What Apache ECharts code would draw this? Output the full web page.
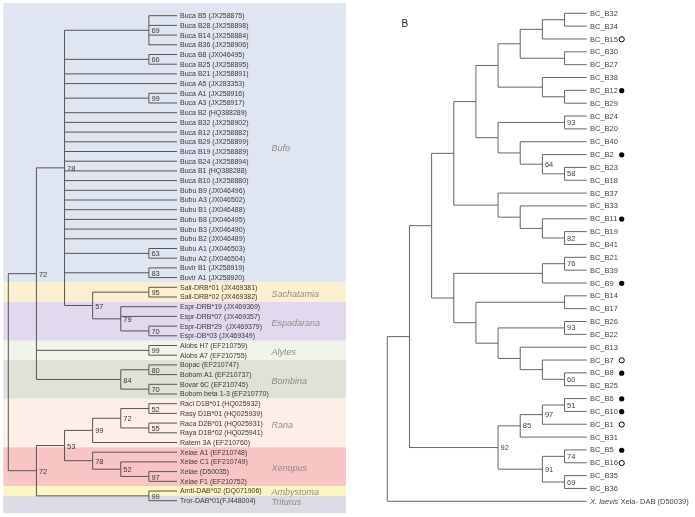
<!DOCTYPE html>
<html><head><meta charset="utf-8">
<script src="https://cdn.jsdelivr.net/npm/echarts@6/dist/echarts.min.js"></script>
<style>html,body{margin:0;padding:0;background:#fff}#c{width:695px;height:517px}</style>
</head><body><div id="c"></div>
<script>
// ---------- Panel A data ----------
const leavesA = [
  "Buca B5 (JX258875)","Buca B28 (JX258898)","Buca B14 (JX258884)","Buca B36 (JX258906)",
  "Buca B8 (JX046495)","Buca B25 (JX258895)","Buca B21 (JX258891)","Buca A5 (JX283353)",
  "Buca A1 (JX258916)","Buca A3 (JX258917)","Buca B2 (HQ388289)","Buca B32 (JX258902)",
  "Buca B12 (JX258882)","Buca B29 (JX258899)","Buca B19 (JX258889)","Buca B24 (JX258894)",
  "Buca B1 (HQ388288)","Buca B10 (JX258880)","Bubu B9 (JX046496)","Bubu A3 (JX046502)",
  "Bubu B1 (JX046488)","Bubu B8 (JX046495)","Bubu B3 (JX046490)","Bubu B2 (JX046489)",
  "Bubu A1 (JX046503)","Bubu A2 (JX046504)","Buvir B1 (JX258919)","Buvir A1 (JX258920)",
  "Sail-DRB*01 (JX469381)","Sail-DRB*02 (JX469382)",
  "Espr-DRB*19 (JX469369)","Espr-DRB*07 (JX469357)","Espr-DRB*29  (JX469379)","Espr-DB*03 (JX469349)",
  "Alobs H7 (EF210759)","Alobs A7 (EF210755)",
  "Bopac (EF210747)","Bobom A1 (EF210737)","Bovar 6C (EF210745)","Bobom beta 1-3 (EF210770)",
  "Racl D1B*01 (HQ025932)","Rasy D1B*01 (HQ025939)","Raca D2B*01 (HQ025931)","Raya D1B*02 (HQ025941)","Ratem 3A (EF210760)",
  "Xelae A1 (EF210748)","Xelae C1 (EF210749)","Xelae (D50035)","Xelae F1 (EF210752)",
  "Amti-DAB*02 (DQ071906)","Tror-DAB*01(FJ448004)"
];
// nested clades: [support, ...children]; numbers are leaf indices
const treeA = ['',
  ['72',
    ['78', ['69',0,1,2,3], ['66',4,5], 6, 7, ['99',8,9], 10,11,12,13,14,15,16,17,18,19,20,21,22,23,
      ['63',24,25], ['83',26,27],
      ['57', ['95',28,29], ['79',30,31,['70',32,33]]]],
    ['99',34,35],
    ['84',['80',36,37],['70',38,39]]
  ],
  ['72',
    ['53', ['99', ['72',['52',40,41],['55',42,43]], 44], ['78', 45, ['52', 46, ['97',47,48]]]],
    ['99',49,50]
  ]
];
const genera = ["Bufo","Sachatamia","Espadarana","Alytes","Bombina","Rana","Xenopus","Ambystoma","Triturus"];
const genusFirstLeaf = [0,28,30,34,36,40,45,49,50];
const genusLastLeaf  = [27,29,33,35,39,44,48,49,50];
const genusColors = ["#dfe6f1","#fdf0d0","#e2d9ee","#f0f4ea","#dfe2d7","#fdeee7","#f9c4c4","#fcf7c1","#dcdbe3"];

// ---------- Panel B data ----------
const leavesB = ["BC_B32","BC_B34","BC_B15","BC_B30","BC_B27","BC_B38","BC_B12","BC_B29","BC_B24","BC_B20",
  "BC_B40","BC_B2","BC_B23","BC_B18","BC_B37","BC_B33","BC_B11","BC_B19","BC_B41","BC_B21",
  "BC_B39","BC_B9","BC_B14","BC_B17","BC_B26","BC_B22","BC_B13","BC_B7","BC_B8","BC_B25",
  "BC_B6","BC_B10","BC_B1","BC_B31","BC_B5","BC_B16","BC_B35","BC_B36","{i|X. laevis} Xela- DAB (D50039)"];
// 'f' = filled circle, 'o' = open circle
const marksB = ["","","o","","","","f","","","",
  "","f","","","","","f","","","",
  "","f","","","","","","o","f","",
  "f","f","o","","f","o","","",""];
const treeB = ['',
  ['',
    ['',
      ['',
        ['',
          ['', ['', ['', ['',0,1], 2], ['',3,4]], ['', 5, ['',6,7]]],
          ['', ['93',8,9], ['', 10, ['64', 11, ['58',12,13]]]]
        ],
        ['', 14, ['', 15, ['', 16, ['82',17,18]]]]
      ],
      ['',
        ['', ['76',19,20], 21],
        ['', ['',22,23], ['', ['93',24,25], ['', 26, ['', 27, ['60',28,29]]]]]
      ]
    ],
    ['92', ['85', ['97', ['51',30,31], 32], 33], ['91', ['74',34,35], ['69',36,37]]]
  ],
  38
];

// ---------- layout helpers ----------
function height(n){ return typeof n === 'number' ? 0 : 1 + Math.max(...n.slice(1).map(height)); }
function build(tree){
  const H = height(tree), segs = [], nodes = [];
  (function lay(n){
    if (typeof n === 'number') return {x:H, y:n};
    const kids = n.slice(1).map(lay);
    const x = H - height(n);
    const y0 = kids[0].y, y1 = kids[kids.length-1].y;
    segs.push([x, y0, x, y1]);
    kids.forEach(k => segs.push([x, k.y, k.x, k.y]));
    if (n[0]) nodes.push([x, (y0+y1)/2, n[0]]);
    return {x, y:(y0+y1)/2};
  })(tree);
  return {H, segs, nodes};
}
const A = build(treeA), B = build(treeB);

const FONT = '"Liberation Sans", Arial, sans-serif';
const chart = echarts.init(document.getElementById('c'), null, {renderer:'canvas'});

function segSeries(idx, data, color){
  return {type:'custom', xAxisIndex:idx, yAxisIndex:idx, z:3, silent:true, data,
    renderItem(p, api){
      const a = api.coord([api.value(0), api.value(1)]), b = api.coord([api.value(2), api.value(3)]);
      return {type:'line', shape:{x1:a[0], y1:a[1], x2:b[0], y2:b[1]}, style:{stroke:color, lineWidth:1}};
    }};
}
function textSeries(idx, data, opt){
  return {type:'custom', xAxisIndex:idx, yAxisIndex:idx, z:4, silent:true, data,
    renderItem(p, api){
      const d = data[p.dataIndex];
      const c = api.coord([d[0], d[1]]);
      return {type:'text', x:c[0] + opt.dx, y:c[1] + opt.dy,
        style:{text:String(d[2]), fill:opt.color, font:opt.font, align:'left', verticalAlign:'middle',
               rich: opt.rich}};
    }};
}

const bandData = genera.map((g,i) => [
  i === 0 ? -1.31 : genusFirstLeaf[i] - 0.5,
  i === genera.length-1 ? 51.3 : genusLastLeaf[i] + 0.5, i]);

chart.setOption({
  animation:false,
  grid:[
    {left:8.3, top:15.7, width:168.7, height:485},
    {left:387.3, top:13.3, width:199.4, height:488}
  ],
  xAxis:[
    {type:'value', gridIndex:0, min:0, max:A.H, show:false},
    {type:'value', gridIndex:1, min:0, max:B.H, show:false}
  ],
  yAxis:[
    {type:'value', gridIndex:0, min:0, max:leavesA.length-1, inverse:true, show:false},
    {type:'value', gridIndex:1, min:0, max:leavesB.length-1, inverse:true, show:false}
  ],
  graphic:[
    {type:'text', left:11.5, top:17.5, style:{text:'A', font:'10px '+FONT, fill:'#222'}},
    {type:'text', left:401.5, top:19.5, style:{text:'B', font:'10px '+FONT, fill:'#222'}}
  ],
  series:[
    {type:'custom', xAxisIndex:0, yAxisIndex:0, z:1, silent:true, data:bandData,
      renderItem(p, api){
        const a = api.coord([-0.178, api.value(0)]), b = api.coord([12.01, api.value(1)]);
        return {type:'rect', shape:{x:a[0], y:a[1], width:b[0]-a[0], height:b[1]-a[1]},
          style:{fill:genusColors[api.value(2)]}};
      }},
    segSeries(0, A.segs, '#555'),
    textSeries(0, leavesA.map((t,i)=>[A.H, i, t]), {dx:3, dy:0.5, color:'#3a3a3a', font:'7px '+FONT}),
    textSeries(0, A.nodes, {dx:2.5, dy:1, color:'#3a3a3a', font:'7.5px '+FONT}),
    textSeries(0, genera.map((g,i)=>[9.36, (genusFirstLeaf[i]+genusLastLeaf[i])/2 + 0.2, g]),
      {dx:0, dy:0, color:'#8c8c8c', font:'italic 9px '+FONT}),
    segSeries(1, B.segs, '#666'),
    textSeries(1, leavesB.map((t,i)=>[B.H, i, t]), {dx:3.3, dy:0.5, color:'#444', font:'7.5px '+FONT,
      rich:{i:{fontStyle:'italic', fontSize:7.5, fontFamily:FONT, fill:'#444'}}}),
    textSeries(1, B.nodes, {dx:2.5, dy:0.5, color:'#444', font:'7.5px '+FONT}),
    {type:'custom', xAxisIndex:1, yAxisIndex:1, z:5, silent:true,
      data: marksB.map((m,i)=>[B.H, i, m]).filter(d=>d[2]),
      renderItem(p, api){
        const c = api.coord([B.H, api.value(1)]);
        const m = marksB[api.value(1)];
        return {type:'circle', shape:{cx:c[0]+35, cy:c[1]+0.3, r:2.6},
          style: m === 'f' ? {fill:'#000'} : {fill:'#fff', stroke:'#000', lineWidth:1}};
      }}
  ]
});
</script></body></html>
